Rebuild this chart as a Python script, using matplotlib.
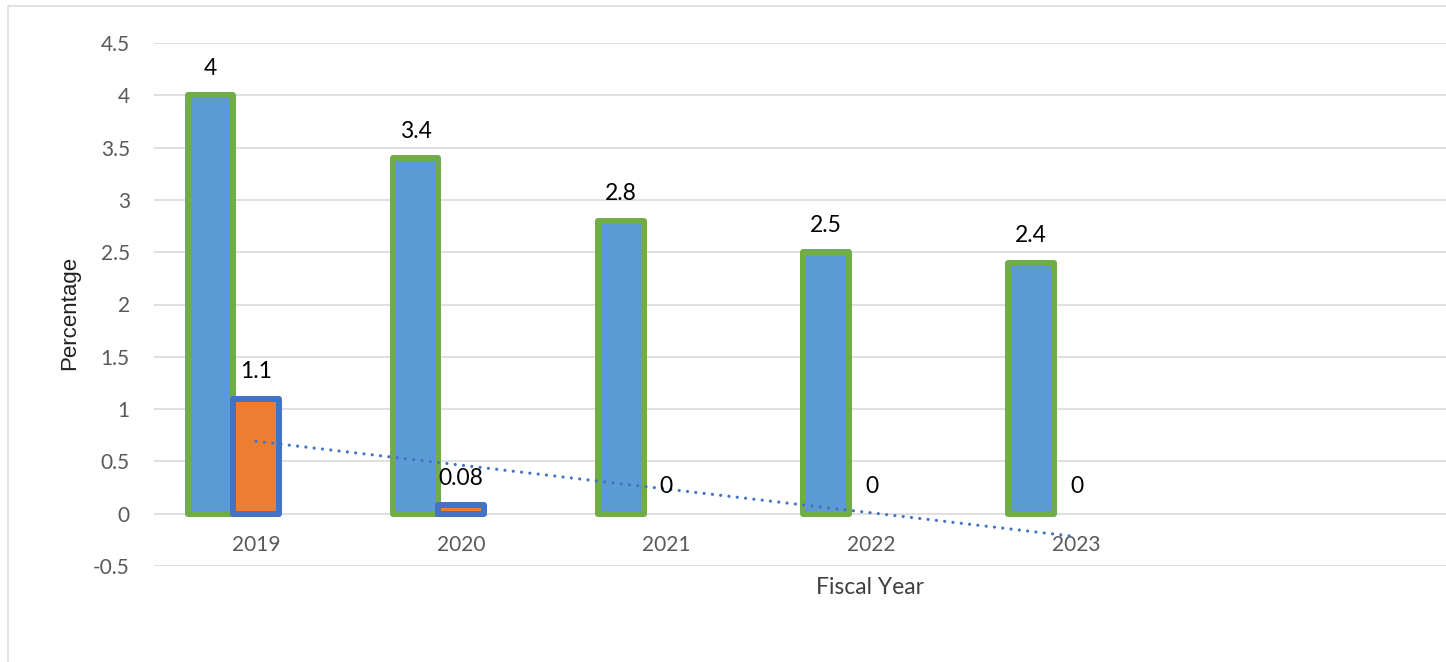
import numpy as np
import matplotlib
matplotlib.use("Agg")
import matplotlib.pyplot as plt
from matplotlib.ticker import FuncFormatter, MultipleLocator
from matplotlib.patches import Rectangle

years = ["2019", "2020", "2021", "2022", "2023"]
series_a = [4.0, 3.4, 2.8, 2.5, 2.4]
series_b = [1.1, 0.08, 0.0, 0.0, 0.0]
y_title = "Percentage"
x_title = "Fiscal Year"

plt.rcParams['font.family'] = ['Lato', 'DejaVu Sans']

W, H = 1446, 662
fig = plt.figure(figsize=(W / 100, H / 100), dpi=100)
px = 72 / 100  # points per pixel

# chart border
fig.add_artist(Rectangle((8 / W, -0.1), 1.2, 1 - 6 / H + 0.1, transform=fig.transFigure,
                         fill=False, edgecolor='#D9D9D9', linewidth=1.5 * px))

left, right = 153.5 / W, 1.0
bottom, top = (H - 566) / H, (H - 43) / H
ax = fig.add_axes([left, bottom, right - left, top - bottom])

x = np.arange(len(years))
bw = 0.222
step = 0.222

bars_a = ax.bar(x - step, series_a, width=bw, color='#5B9BD5', edgecolor='#70AD47',
                linewidth=6 * px, zorder=3)
bars_b = ax.bar(x, series_b, width=bw, color='#ED7D31', edgecolor='#4472C4',
                linewidth=6 * px, zorder=4)
for b, v in zip(list(bars_a) + list(bars_b), series_a + series_b):
    b.set_joinstyle('round')
    if v == 0:
        b.set_visible(False)

# linear trendline for series b
coef = np.polyfit(x, series_b, 1)
ax.plot(x, np.polyval(coef, x), color='#4472C4', linewidth=3.2 * px,
        linestyle=(0, (0.01, 2.6)), dash_capstyle='round', solid_capstyle='round', zorder=5)

# data labels
for xi, v in zip(x - step, series_a):
    ax.annotate(f"{v:g}", (xi, v), xytext=(0, 27 * px), textcoords='offset points',
                ha='center', va='center', fontsize=16.5, color='black', zorder=6)
for xi, v in zip(x, series_b):
    ax.annotate(f"{v:g}", (xi, v), xytext=(0, 27 * px), textcoords='offset points',
                ha='center', va='center', fontsize=16.5, color='black', zorder=6)

ax.set_ylim(-0.5, 4.5)
ax.set_xlim(-0.5, 5.80)
ax.yaxis.set_major_locator(MultipleLocator(0.5))
ax.yaxis.set_major_formatter(FuncFormatter(lambda v, p: f"{v:g}"))
ax.grid(axis='y', color='#D9D9D9', linewidth=1.6 * px, zorder=0)
ax.set_axisbelow(True)
for s in ax.spines.values():
    s.set_visible(False)
ax.spines['bottom'].set_position(('data', 0))
ax.set_xticks(x, years)
ax.tick_params(axis='x', length=0, pad=15, labelsize=15, labelcolor='#595959')
ax.tick_params(axis='y', length=0, pad=17, labelsize=15, labelcolor='#595959')

fig.text(870 / W, 1 - 588 / H, x_title, ha='center', va='center', fontsize=16.5, color='#404040')
fig.text(70 / W, 1 - 313 / H, y_title, ha='center', va='center', rotation=90,
         fontsize=16, color='#202020', family=['Liberation Sans', 'DejaVu Sans'])

fig.savefig("out.png", dpi=100)
